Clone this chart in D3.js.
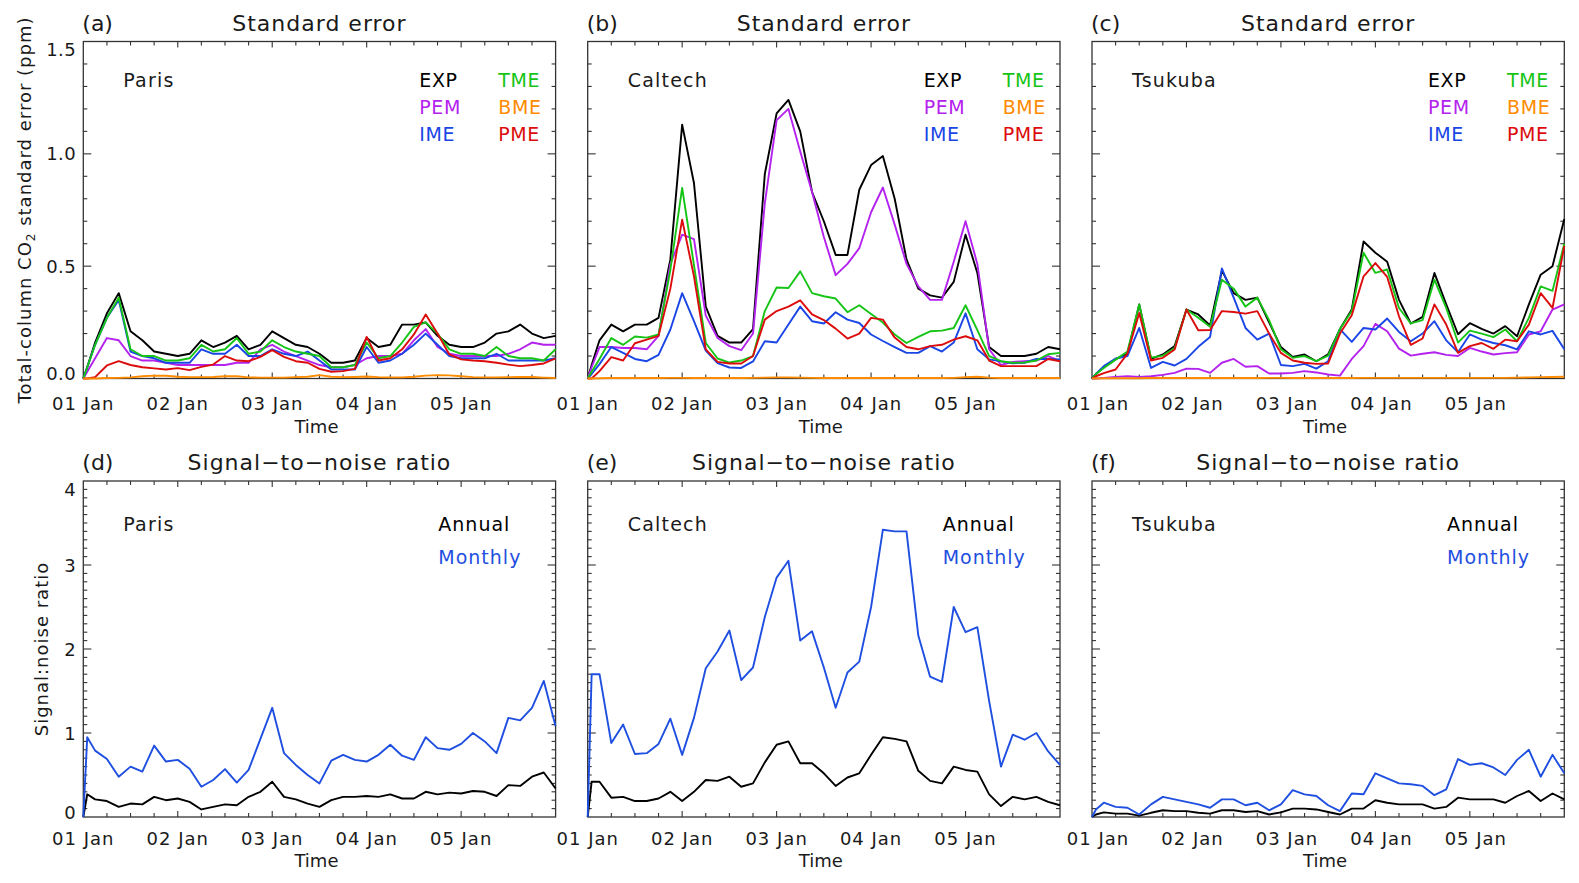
<!DOCTYPE html>
<html><head><meta charset="utf-8">
<script src="https://cdn.jsdelivr.net/npm/d3@7"></script>
<style>
html,body{margin:0;padding:0;background:#fff;}
svg text{font-family:"DejaVu Sans",sans-serif;fill:#1a1a1a;}
</style></head><body>
<svg id="chart" width="1579" height="883"></svg>
<script>
// ---------------- DATA ----------------
const hours = [0,1,3,6,9,12,15,18,21,24,27,30,33,36,39,42,45,48,51,54,57,60,63,66,69,72,75,78,81,84,87,90,93,96,99,102,105,108,111,114,117,120];
const xTickHours = [0,24,48,72,96];
const xTickLabels = ["01 Jan","02 Jan","03 Jan","04 Jan","05 Jan"];
const seYTicks = [0,0.5,1.0,1.5];
const snrYTicks = [0,1,2,3,4];
const sites = ["Paris","Caltech","Tsukuba"];
const panelLetters = ["(a)","(b)","(c)","(d)","(e)","(f)"];
const seLegendCol1 = ["EXP","PEM","IME"];
const seLegendCol2 = ["TME","BME","PME"];
const snrLegend = ["Annual","Monthly"];

const parisEXP = [0,0.05, 0.16,0.29,0.38,0.21,0.17,0.12,0.11,0.10,0.11,0.17, 0.14,0.16,0.19,0.13,0.15,0.21,0.18,0.15,0.14,0.11, 0.07,0.07,0.08,0.18,0.14,0.15,0.24,0.24,0.25,0.19, 0.15,0.14,0.14,0.16,0.20,0.21,0.24,0.20,0.18,0.19];
const parisPEM = [0,0.03, 0.09,0.18,0.17,0.10,0.08,0.08,0.07,0.06,0.06,0.06, 0.06,0.06,0.07,0.07,0.13,0.15,0.12,0.10,0.08,0.06, 0.05,0.05,0.06,0.09,0.10,0.10,0.11,0.17,0.22,0.14, 0.11,0.10,0.10,0.10,0.10,0.11,0.13,0.16,0.15,0.15];
const parisIME = [0,0.05, 0.15,0.27,0.35,0.12,0.10,0.09,0.07,0.07,0.07,0.13, 0.11,0.11,0.15,0.10,0.10,0.13,0.11,0.10,0.12,0.08, 0.04,0.04,0.04,0.14,0.07,0.08,0.11,0.15,0.20,0.15, 0.10,0.09,0.09,0.09,0.11,0.08,0.08,0.08,0.08,0.09];
const parisTME = [0,0.05, 0.15,0.27,0.36,0.13,0.10,0.10,0.08,0.08,0.09,0.15, 0.12,0.13,0.18,0.11,0.12,0.17,0.14,0.12,0.11,0.10, 0.05,0.05,0.06,0.16,0.09,0.10,0.16,0.23,0.25,0.20, 0.13,0.11,0.11,0.10,0.14,0.10,0.09,0.09,0.08,0.13];
const parisBME = [0,0, 0,0.002,0.003,0.005,0.01,0.013,0.012,0.008,0.006,0.006, 0.007,0.01,0.01,0.005,0.004,0.004,0.004,0.006,0.008,0.015, 0.008,0.006,0.007,0.009,0.006,0.005,0.005,0.008,0.013,0.015, 0.014,0.01,0.006,0.005,0.005,0.006,0.007,0.007,0.004,0.002];
const parisPME = [0,0, 0.006,0.058,0.077,0.06,0.05,0.045,0.04,0.046,0.037,0.052, 0.062,0.10,0.08,0.077,0.096,0.126,0.096,0.077,0.07,0.043, 0.03,0.033,0.043,0.185,0.08,0.09,0.13,0.196,0.285,0.2, 0.107,0.085,0.08,0.077,0.07,0.062,0.055,0.06,0.067,0.09];

const caltechEXP = [0,0.06, 0.17,0.24,0.21,0.24,0.24,0.27,0.53,1.13,0.87,0.32, 0.19,0.16,0.16,0.22,0.91,1.18,1.24,1.10,0.83,0.70, 0.55,0.55,0.84,0.95,0.99,0.80,0.53,0.40,0.37,0.36, 0.43,0.64,0.47,0.14,0.10,0.10,0.10,0.11,0.14,0.13];
const caltechPEM = [0,0.05, 0.14,0.14,0.136,0.136,0.13,0.19,0.51,0.64,0.62,0.28, 0.18,0.144,0.126,0.20,0.78,1.15,1.20,1.01,0.83,0.63, 0.46,0.51,0.58,0.74,0.85,0.685,0.51,0.41,0.35,0.35, 0.52,0.70,0.51,0.13,0.06,0.074,0.077,0.08,0.10,0.077];
const caltechIME = [0,0.02, 0.064,0.14,0.114,0.087,0.077,0.105,0.218,0.38,0.255,0.124, 0.068,0.049,0.047,0.076,0.166,0.16,0.24,0.32,0.255,0.245, 0.295,0.262,0.247,0.196,0.167,0.14,0.114,0.114,0.144,0.12, 0.16,0.29,0.13,0.085,0.076,0.068,0.07,0.087,0.087,0.085];
const caltechTME = [0,0.03, 0.087,0.18,0.15,0.187,0.182,0.196,0.483,0.848,0.505,0.158, 0.089,0.071,0.08,0.10,0.30,0.405,0.403,0.477,0.38,0.366, 0.356,0.295,0.326,0.287,0.249,0.196,0.158,0.185,0.21,0.213, 0.225,0.326,0.215,0.10,0.077,0.07,0.071,0.08,0.108,0.114];
const caltechBME = [0,0, 0.001,0.002,0.002,0.002,0.002,0.002,0.003,0.003,0.002,0.002, 0.002,0.002,0.002,0.003,0.004,0.005,0.005,0.004,0.003,0.002, 0.002,0.002,0.002,0.002,0.002,0.002,0.002,0.002,0.002,0.002, 0.003,0.006,0.008,0.004,0.002,0.002,0.002,0.002,0.002,0.002];
const caltechPME = [0,0, 0.033,0.095,0.08,0.157,0.173,0.19,0.40,0.707,0.455,0.13, 0.074,0.067,0.067,0.10,0.262,0.30,0.32,0.348,0.285,0.26, 0.222,0.178,0.20,0.27,0.262,0.182,0.14,0.13,0.144,0.15, 0.173,0.188,0.17,0.08,0.055,0.055,0.055,0.055,0.087,0.077];

const tsukubaEXP = [0,0.02, 0.05,0.086,0.11,0.33,0.087,0.107,0.144,0.307,0.285,0.236, 0.48,0.38,0.35,0.36,0.25,0.14,0.096,0.107,0.077,0.108, 0.22,0.307,0.61,0.56,0.52,0.35,0.245,0.274,0.47,0.33, 0.197,0.246,0.221,0.20,0.233,0.188,0.33,0.462,0.50,0.71];
const tsukubaPEM = [0,0, 0.003,0.007,0.01,0.007,0.01,0.016,0.025,0.044,0.043,0.025, 0.07,0.087,0.052,0.055,0.022,0.022,0.025,0.033,0.027,0.018, 0.013,0.087,0.144,0.243,0.21,0.133,0.102,0.11,0.117,0.105, 0.10,0.136,0.12,0.107,0.113,0.117,0.196,0.21,0.307,0.33];
const tsukubaIME = [0,0.02, 0.055,0.089,0.10,0.225,0.047,0.074,0.058,0.087,0.141,0.185, 0.49,0.36,0.225,0.173,0.20,0.06,0.055,0.065,0.044,0.077, 0.22,0.163,0.225,0.218,0.267,0.207,0.166,0.20,0.255,0.17, 0.117,0.196,0.173,0.158,0.148,0.13,0.21,0.196,0.212,0.13];
const tsukubaTME = [0,0.02, 0.047,0.084,0.12,0.33,0.093,0.102,0.136,0.307,0.27,0.23, 0.44,0.40,0.32,0.36,0.26,0.13,0.092,0.10,0.077,0.102, 0.22,0.30,0.56,0.47,0.485,0.314,0.245,0.26,0.44,0.314, 0.16,0.213,0.20,0.184,0.218,0.166,0.27,0.41,0.39,0.60];
const tsukubaBME = [0,0, 0.001,0.001,0.001,0.001,0.002,0.002,0.002,0.002,0.002,0.002, 0.002,0.002,0.002,0.002,0.003,0.003,0.002,0.002,0.002,0.002, 0.002,0.002,0.003,0.003,0.003,0.003,0.003,0.003,0.003,0.003, 0.003,0.003,0.003,0.003,0.003,0.004,0.005,0.006,0.007,0.008];
const tsukubaPME = [0,0.01, 0.024,0.04,0.111,0.292,0.08,0.092,0.129,0.307,0.215,0.216, 0.30,0.296,0.289,0.30,0.20,0.114,0.08,0.07,0.065,0.067, 0.20,0.282,0.455,0.514,0.452,0.277,0.15,0.178,0.33,0.24, 0.114,0.144,0.158,0.132,0.173,0.166,0.24,0.38,0.314,0.59];

const parisAnnual = [0,0.27, 0.21,0.19,0.12,0.16,0.15,0.24,0.20,0.22,0.18,0.09, 0.12,0.15,0.14,0.24,0.30,0.42,0.24,0.21,0.16,0.12, 0.20,0.24,0.24,0.25,0.24,0.27,0.22,0.22,0.30,0.27, 0.29,0.28,0.31,0.30,0.25,0.38,0.37,0.48,0.53,0.34];
const parisMonthly = [0,0.95, 0.79,0.69,0.48,0.60,0.54,0.85,0.66,0.68,0.575,0.36, 0.44,0.57,0.41,0.56,0.93,1.30,0.76,0.62,0.50,0.40, 0.67,0.74,0.68,0.66,0.74,0.86,0.73,0.68,0.95,0.82, 0.80,0.87,1.00,0.90,0.76,1.18,1.15,1.30,1.62,1.08];
const caltechAnnual = [0,0.42, 0.42,0.23,0.24,0.19,0.19,0.22,0.30,0.19,0.30,0.44, 0.43,0.48,0.36,0.40,0.65,0.86,0.90,0.64,0.64,0.52, 0.37,0.47,0.52,0.74,0.95,0.93,0.90,0.55,0.43,0.40, 0.60,0.56,0.54,0.27,0.13,0.24,0.21,0.24,0.18,0.14];
const caltechMonthly = [0,1.70, 1.70,0.88,1.10,0.75,0.76,0.87,1.17,0.74,1.18,1.77, 1.97,2.22,1.63,1.78,2.38,2.85,3.05,2.10,2.21,1.78, 1.30,1.72,1.85,2.50,3.42,3.40,3.40,2.16,1.67,1.61, 2.50,2.20,2.26,1.38,0.60,0.98,0.92,1.00,0.78,0.62];
const tsukubaAnnual = [0,0.03, 0.055,0.04,0.04,0.016,0.05,0.08,0.07,0.07,0.05,0.04, 0.08,0.08,0.06,0.07,0.03,0.055,0.10,0.10,0.09,0.06, 0.03,0.10,0.10,0.20,0.17,0.15,0.15,0.15,0.10,0.12, 0.23,0.21,0.21,0.21,0.17,0.25,0.31,0.19,0.28,0.21];
const tsukubaMonthly = [0,0.09, 0.17,0.12,0.11,0.03,0.15,0.24,0.21,0.18,0.15,0.11, 0.21,0.21,0.14,0.17,0.08,0.15,0.32,0.27,0.25,0.14, 0.07,0.28,0.27,0.52,0.46,0.40,0.39,0.37,0.26,0.33, 0.69,0.62,0.64,0.59,0.50,0.68,0.80,0.48,0.74,0.52];

// ---------------- STYLE / LAYOUT ----------------
const colors = {EXP:"#000000", PEM:"#b422ee", IME:"#1a46e6", TME:"#16c416", BME:"#ff8c00", PME:"#dc0c0c", Annual:"#000000", Monthly:"#1f4fe0"};
const seTable = [
  {EXP:parisEXP, PEM:parisPEM, IME:parisIME, TME:parisTME, PME:parisPME, BME:parisBME},
  {EXP:caltechEXP, PEM:caltechPEM, IME:caltechIME, TME:caltechTME, PME:caltechPME, BME:caltechBME},
  {EXP:tsukubaEXP, PEM:tsukubaPEM, IME:tsukubaIME, TME:tsukubaTME, PME:tsukubaPME, BME:tsukubaBME}
];
const snrTable = [
  {Annual:parisAnnual, Monthly:parisMonthly},
  {Annual:caltechAnnual, Monthly:caltechMonthly},
  {Annual:tsukubaAnnual, Monthly:tsukubaMonthly}
];
const seDrawOrder = ["EXP","PEM","IME","TME","PME","BME"];
const snrDrawOrder = ["Annual","Monthly"];

const svg = d3.select("#chart");
const W = 472.3;
const colLeft = [83.3, 587.7, 1092];
const labelShift = [0, 0, 6];
const rows = [
  {top:41.5, bottom:378.5, ymax:1.5, step:0.1, major:0.5, fmt:d3.format(".1f"), ticks:seYTicks,
   titleBase:31, labelBase:410, timeBase:433, title:"Standard error"},
  {top:481, bottom:817, ymax:4, step:0.1, major:1, fmt:d3.format("d"), ticks:snrYTicks,
   titleBase:470, labelBase:845, timeBase:867, title:"Signal\u2212to\u2212noise ratio"}
];

rows.forEach((row, r) => {
  colLeft.forEach((L, c) => {
    const R = L + W;
    const x = d3.scaleLinear().domain([0,120]).range([L, R]);
    const y = d3.scaleLinear().domain([0, row.ymax]).range([row.bottom, row.top]);
    const g = svg.append("g");

    // frame
    g.append("rect").attr("x", L).attr("y", row.top).attr("width", W).attr("height", row.bottom - row.top)
      .attr("fill","none").attr("stroke","#333").attr("stroke-width",1.3);

    // x ticks (6-hourly minor, daily major) on bottom and top
    d3.range(6, 120, 6).forEach(h => {
      const len = (h % 24 === 0) ? 6 : 4;
      g.append("line").attr("x1",x(h)).attr("x2",x(h)).attr("y1",row.bottom).attr("y2",row.bottom-len)
        .attr("stroke","#333").attr("stroke-width",1.1);
      g.append("line").attr("x1",x(h)).attr("x2",x(h)).attr("y1",row.top).attr("y2",row.top+len)
        .attr("stroke","#333").attr("stroke-width",1.1);
    });
    // y ticks left and right
    const nStep = Math.round(row.ymax / row.step);
    d3.range(1, nStep).forEach(i => {
      const v = i * row.step;
      const q = v / row.major;
      const isMajor = Math.abs(q - Math.round(q)) < 1e-6;
      const len = isMajor ? 8 : 4;
      g.append("line").attr("x1",L).attr("x2",L+len).attr("y1",y(v)).attr("y2",y(v))
        .attr("stroke","#333").attr("stroke-width",1.1);
      g.append("line").attr("x1",R).attr("x2",R-len).attr("y1",y(v)).attr("y2",y(v))
        .attr("stroke","#333").attr("stroke-width",1.1);
    });

    // x tick labels
    xTickHours.forEach((h, i) => {
      g.append("text").attr("x", x(h) + labelShift[c]).attr("y", row.labelBase)
        .attr("text-anchor","middle").attr("font-size",18).attr("letter-spacing",1)
        .text(xTickLabels[i]);
    });
    // y tick labels (first column only)
    if (c === 0) {
      row.ticks.forEach((v, i) => {
        let yy = y(v) + 6.5;
        if (i === row.ticks.length - 1) yy += 8;
        if (i === 0) yy -= 5;
        g.append("text").attr("x", L - 7).attr("y", yy).attr("text-anchor","end")
          .attr("font-size",18).attr("letter-spacing",0.5).text(row.fmt(v));
      });
    }

    // titles
    g.append("text").attr("x", L - 1).attr("y", row.titleBase).attr("font-size",22)
      .text(panelLetters[r*3 + c]);
    g.append("text").attr("x", L + W/2).attr("y", row.titleBase).attr("text-anchor","middle")
      .attr("font-size",22).attr("letter-spacing",1).text(row.title);
    g.append("text").attr("x", L + W/2 - 3).attr("y", row.timeBase).attr("text-anchor","middle")
      .attr("font-size",18).text("Time");

    // site label
    g.append("text").attr("x", L + 40).attr("y", r === 0 ? 87 : 531).attr("font-size",19)
      .attr("letter-spacing",1.2).text(sites[c]);

    const line = d3.line().x((d,i) => x(hours[i])).y(d => y(d));

    if (r === 0) {
      const tbl = seTable[c];
      seDrawOrder.forEach(k => {
        g.append("path").datum(tbl[k]).attr("d", line).attr("fill","none")
          .attr("stroke", colors[k]).attr("stroke-width",1.9).attr("stroke-linejoin","round");
      });
      seLegendCol1.forEach((k, i) => {
        g.append("text").attr("x", L + 336).attr("y", 87 + 27*i).attr("font-size",19)
          .attr("letter-spacing",0.6).style("fill", colors[k]).text(k);
      });
      seLegendCol2.forEach((k, i) => {
        g.append("text").attr("x", L + 415).attr("y", 87 + 27*i).attr("font-size",19)
          .attr("letter-spacing",0.6).style("fill", colors[k]).text(k);
      });
    } else {
      const tbl = snrTable[c];
      snrDrawOrder.forEach(k => {
        g.append("path").datum(tbl[k]).attr("d", line).attr("fill","none")
          .attr("stroke", colors[k]).attr("stroke-width",1.9).attr("stroke-linejoin","round");
      });
      snrLegend.forEach((k, i) => {
        g.append("text").attr("x", L + 355).attr("y", 531 + 33*i).attr("font-size",19)
          .attr("letter-spacing",1).style("fill", colors[k]).text(k);
      });
    }
  });
});

// y axis titles
const yt1 = svg.append("text").attr("transform","translate(25," + ((41.5+378.5)/2) + ") rotate(-90)")
  .attr("text-anchor","middle").attr("dy","0.35em").attr("font-size",18).attr("letter-spacing",1);
yt1.append("tspan").text("Total-column CO");
yt1.append("tspan").attr("dy",4).attr("font-size",12).text("2");
yt1.append("tspan").attr("dy",-4).text(" standard  error (ppm)");

svg.append("text").attr("transform","translate(42," + ((481+817)/2) + ") rotate(-90)")
  .attr("text-anchor","middle").attr("dy","0.35em").attr("font-size",18).attr("letter-spacing",1)
  .text("Signal:noise ratio");
</script>
</body></html>
